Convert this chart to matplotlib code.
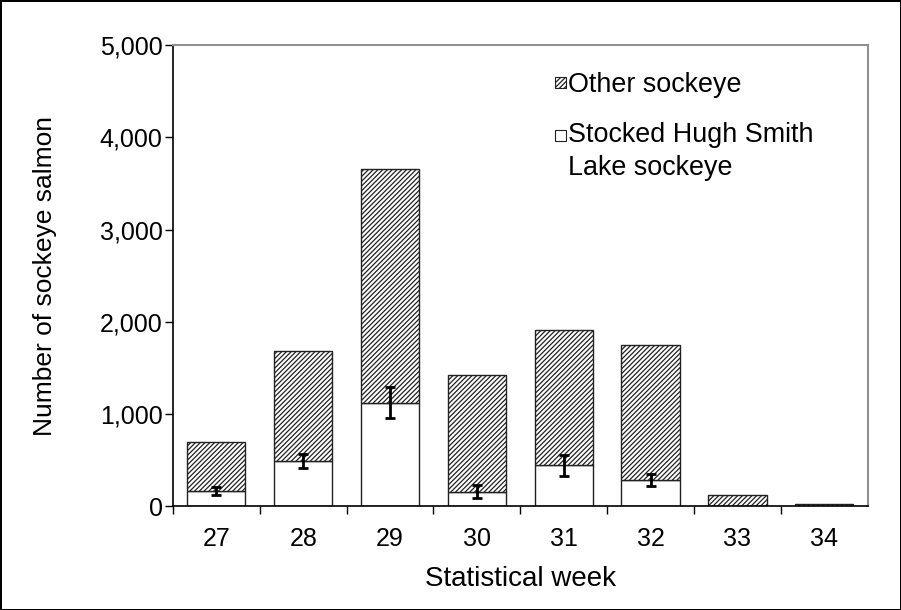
import numpy as np
import matplotlib.pyplot as plt
from matplotlib.patches import Rectangle

plt.rcParams['font.family'] = ['Liberation Sans', 'DejaVu Sans']
plt.rcParams['hatch.linewidth'] = 0.9
plt.rcParams['hatch.color'] = '#505050'

# values
weeks = ["27", "28", "29", "30", "31", "32", "33", "34"]
total = [692, 1688, 3660, 1421, 1915, 1750, 125, 25]
stocked = [163, 489, 1121, 150, 446, 287, 0, 0]
err_low = [120, 414, 962, 89, 327, 222, 0, 0]
err_high = [210, 569, 1298, 230, 561, 352, 0, 0]

other = [t - s for t, s in zip(total, stocked)]
x = np.arange(len(weeks))
hatch = '///////'

fig = plt.figure(figsize=(9.01, 6.10), dpi=100, edgecolor='black', linewidth=2)
ax = fig.add_axes([0.192, 0.17, 0.771, 0.756])

b_st = ax.bar(x, stocked, width=0.67, color='white', edgecolor='#222222', linewidth=1.0)
b_ot = ax.bar(x, other, width=0.67, bottom=stocked, color='white', edgecolor='#222222',
              linewidth=1.0, hatch=hatch)

# error bars only where there is a stocked estimate
m = np.array(stocked) > 0
lo = np.array(stocked) - np.array(err_low)
hi = np.array(err_high) - np.array(stocked)
ax.errorbar(x[m], np.array(stocked)[m], yerr=[lo[m], hi[m]], fmt='none',
            ecolor='black', elinewidth=2, capsize=3.5, capthick=2)

ax.set_xlim(-0.5, 7.5)
ax.set_ylim(0, 5000)
ax.set_yticks(range(0, 5001, 1000))
ax.set_yticklabels([f"{v:,}" for v in range(0, 5001, 1000)])
ax.set_xticks(x)
ax.set_xticklabels(weeks)
ax.set_xticks(np.arange(-0.5, 7.0, 1.0), minor=True)
ax.tick_params(axis='x', which='major', length=0, pad=15, labelsize=18)
ax.tick_params(axis='x', which='minor', length=6, width=1, direction='out')
ax.tick_params(axis='y', length=6, width=1, direction='out', labelsize=18, pad=1.5)

for s in ['top', 'right']:
    ax.spines[s].set_color('#909090')
    ax.spines[s].set_linewidth(1.5)
for s in ['left', 'bottom']:
    ax.spines[s].set_color('black')
    ax.spines[s].set_linewidth(1.2)

ax.set_xlabel("Statistical week", fontsize=20, labelpad=11)
ax.set_ylabel("Number of sockeye salmon", fontsize=19, labelpad=31)

# legend drawn by hand so the stocked square sits on the first line
sw, sh = 11 / 695, 11 / 461.5
lx, tx = 0.5496, 0.568
lfs = 19.4
ax.add_patch(Rectangle((lx, 0.9068), sw, sh, transform=ax.transAxes,
                       facecolor='white', edgecolor='#222222', linewidth=0.8,
                       hatch=hatch, clip_on=False))
ax.text(tx, 0.8992, "Other sockeye", transform=ax.transAxes, fontsize=lfs, va='baseline')
ax.add_patch(Rectangle((lx, 0.792), sw, sh, transform=ax.transAxes,
                       facecolor='white', edgecolor='#222222', linewidth=0.8, clip_on=False))
ax.text(tx, 0.7898, "Stocked Hugh Smith", transform=ax.transAxes, fontsize=lfs, va='baseline')
ax.text(tx, 0.7183, "Lake sockeye", transform=ax.transAxes, fontsize=lfs, va='baseline')

fig.savefig("out.png", dpi=100)
